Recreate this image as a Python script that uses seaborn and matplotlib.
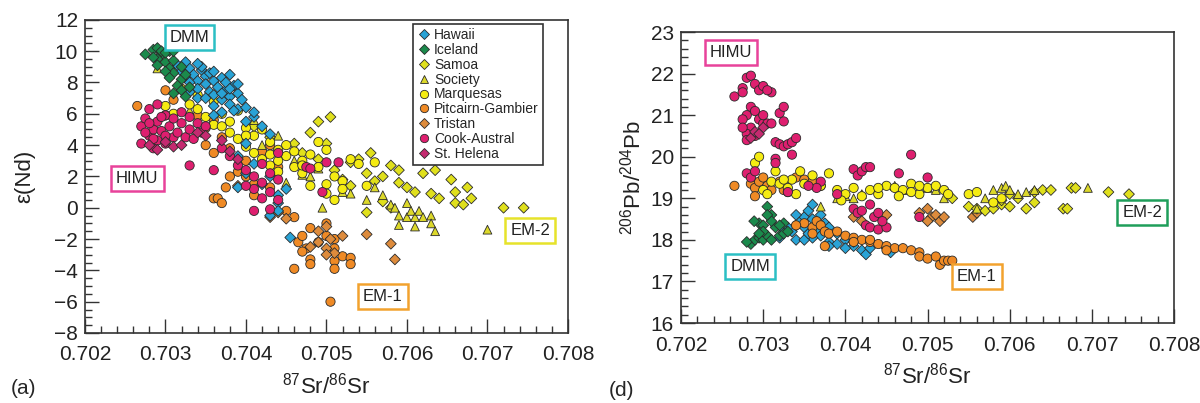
import pandas as pd
import seaborn as sns
import matplotlib.pyplot as plt
from matplotlib.lines import Line2D
from matplotlib.ticker import MultipleLocator, FormatStrFormatter

# groups, colours, markers
groups = ["Hawaii", "Iceland", "Samoa", "Society", "Marquesas",
          "Pitcairn-Gambier", "Tristan", "Cook-Austral", "St. Helena"]
colors = ["#29a3d6", "#1b8a4c", "#e0e01c", "#dcd82a", "#f5ec12",
          "#ef8a25", "#dd8b3c", "#de1f6f", "#c42a70"]
markers = ["D", "D", "D", "^", "o", "o", "D", "o", "D"]
msizes = [30, 30, 30, 40, 44, 44, 30, 44, 30]
order_a = ["Pitcairn-Gambier", "Tristan", "Samoa", "Society", "Marquesas",
           "Hawaii", "Iceland", "Cook-Austral", "St. Helena"]
order_d = ["Hawaii", "Iceland", "Pitcairn-Gambier", "Tristan", "Samoa",
           "Society", "Marquesas", "Cook-Austral", "St. Helena"]

# panel (a): 87Sr/86Sr vs eps(Nd)
hawaii_a = [(0.70315, 9.1), (0.7032, 8.7), (0.70325, 8.3), (0.7033, 8.9), (0.70335, 8.5),
            (0.7034, 8.1), (0.7034, 7.6), (0.70345, 8.8), (0.7035, 8.4), (0.7035, 7.9),
            (0.70355, 7.4), (0.7036, 8.1), (0.7036, 7.2), (0.70365, 7.7), (0.7037, 8.3),
            (0.7037, 6.9), (0.70375, 7.5), (0.7038, 7.1), (0.7038, 6.6), (0.70385, 7.8),
            (0.7039, 7.3), (0.7039, 6.3), (0.70395, 6.9), (0.7034, 7.0), (0.7033, 7.4),
            (0.7036, 6.5), (0.7037, 6.1), (0.7040, 5.5), (0.7041, 5.8), (0.7042, 5.2),
            (0.7043, 4.7), (0.7040, 4.1), (0.7039, 3.3), (0.7041, 2.8), (0.7043, 2.0),
            (0.7042, 1.5), (0.7044, 0.8), (0.7044, 0.3), (0.7045, 1.2), (0.7043, -0.5),
            (0.7044, -0.2), (0.70455, -1.9), (0.7039, 1.3), (0.7040, 2.2), (0.70345, 9.0),
            (0.7038, 8.5), (0.7033, 8.0), (0.7035, 7.0), (0.70355, 8.6), (0.7036, 8.7),
            (0.70375, 8.0), (0.7038, 7.6), (0.7039, 7.9), (0.7040, 6.4), (0.70385, 6.2),
            (0.7041, 6.1), (0.7034, 9.2), (0.70325, 9.3), (0.7037, 7.3), (0.7036, 5.9)]
iceland_a = [(0.70285, 10.1), (0.7029, 10.2), (0.70295, 9.8), (0.70305, 10.0), (0.7029, 9.5),
             (0.7030, 9.3), (0.70305, 8.9), (0.7031, 9.4), (0.7032, 9.0), (0.7031, 8.6),
             (0.7032, 8.2), (0.70315, 7.8), (0.70325, 8.5), (0.7030, 8.7), (0.7029, 9.1),
             (0.70285, 9.6), (0.7032, 7.5), (0.70325, 7.1), (0.7033, 7.7), (0.70295, 10.0),
             (0.7031, 7.3), (0.70275, 9.8), (0.7030, 9.9), (0.70305, 8.3), (0.7031, 10.0)]
samoa_a = [(0.7041, 5.2), (0.7043, 4.5), (0.7046, 4.1), (0.7048, 4.8), (0.7049, 5.5),
           (0.70505, 5.8), (0.7050, 4.1), (0.7047, 3.5), (0.7049, 3.1), (0.7051, 2.4),
           (0.7052, 1.8), (0.7053, 2.9), (0.7054, 3.1), (0.70555, 3.5), (0.7055, 2.2),
           (0.7056, 1.7), (0.7057, 2.0), (0.7058, 2.7), (0.7059, 1.6), (0.7059, 2.4),
           (0.7060, 1.3), (0.7061, 1.0), (0.7062, 2.2), (0.70635, 2.4), (0.7063, 0.9),
           (0.7064, 0.6), (0.70655, 1.8), (0.7066, 1.0), (0.7066, 0.3), (0.70675, 1.3),
           (0.7067, 0.2), (0.7068, 0.6), (0.7072, 0.0), (0.70745, 0.0), (0.7055, -0.3),
           (0.7057, 0.4), (0.7053, 1.4), (0.7058, 0.0)]
society_a = [(0.7029, 8.9), (0.7033, 6.2), (0.7041, 5.6), (0.7044, 4.6), (0.7046, 3.0),
             (0.7047, 2.1), (0.7045, 1.6), (0.7049, 2.5), (0.70495, 0.0), (0.7052, 1.0),
             (0.7053, 0.9), (0.7055, 0.5), (0.7056, 1.3), (0.7057, 0.8), (0.7058, 0.2),
             (0.70585, 0.0), (0.7059, -0.5), (0.7060, -0.6), (0.7060, 0.3), (0.70605, -0.2),
             (0.7061, -0.6), (0.70615, -0.2), (0.7062, -0.6), (0.7063, -0.5), (0.7063, -1.0),
             (0.70635, -1.5), (0.7059, -1.1), (0.7061, -1.2), (0.7070, -1.4), (0.7042, 4.0),
             (0.7048, 2.0)]
marquesas_a = [(0.7030, 6.5), (0.7031, 6.0), (0.7032, 7.6), (0.7033, 6.6), (0.7034, 6.3),
               (0.7034, 7.2), (0.7035, 5.8), (0.7036, 6.8), (0.7036, 5.3), (0.7037, 6.0),
               (0.7038, 5.5), (0.7038, 4.8), (0.7039, 6.2), (0.7039, 4.4), (0.7040, 5.1),
               (0.7040, 3.9), (0.7041, 4.6), (0.7041, 3.5), (0.7042, 5.0), (0.7042, 3.1),
               (0.7043, 4.2), (0.7043, 2.7), (0.7044, 3.7), (0.7044, 2.3), (0.7045, 3.3),
               (0.7045, 4.0), (0.7046, 2.6), (0.7046, 3.6), (0.7047, 3.0), (0.7047, 2.2),
               (0.7048, 3.4), (0.7048, 1.4), (0.7049, 2.6), (0.7049, 4.2), (0.7050, 1.5),
               (0.7050, 3.7), (0.7050, 0.9), (0.7051, 2.0), (0.7051, 0.5), (0.7052, 1.7),
               (0.7052, 1.2), (0.7053, 3.1), (0.7054, 2.8), (0.7055, 1.4), (0.7056, 2.9),
               (0.7037, 5.2), (0.7040, 4.6), (0.7044, 3.0), (0.7047, 2.7), (0.7043, 3.4)]
pitcairn_a = [(0.70265, 6.5), (0.7030, 7.5), (0.7031, 6.9), (0.7030, 5.9), (0.7034, 5.9),
              (0.7035, 5.1), (0.7036, 5.6), (0.7037, 4.5), (0.7035, 4.0), (0.7036, 3.5),
              (0.7038, 3.8), (0.7039, 2.3), (0.7040, 3.0), (0.7040, 2.0), (0.7041, 1.5),
              (0.7038, 2.0), (0.70375, 1.3), (0.7036, 0.6), (0.70365, 0.6), (0.7037, 0.3),
              (0.7041, 0.8), (0.7043, 1.3), (0.7045, -0.2), (0.7046, -0.6), (0.70465, -2.2),
              (0.7047, -1.8), (0.70475, -2.6), (0.7047, -2.8), (0.7048, -3.3), (0.7048, -3.6),
              (0.7050, -1.0), (0.7050, -1.8), (0.7049, -2.2), (0.7051, -2.0), (0.7051, -2.6),
              (0.7051, -3.4), (0.7051, -3.9), (0.7052, -3.1), (0.7053, -3.2), (0.7053, -3.6),
              (0.7046, -3.9), (0.70505, -6.0), (0.7048, -1.3), (0.7042, 3.6), (0.7044, 2.6),
              (0.7043, 4.0)]
tristan_a = [(0.7049, -1.5), (0.7049, -2.2), (0.7050, -2.6), (0.7050, -1.2), (0.70505, -2.0),
             (0.7051, -2.9), (0.7052, -1.8), (0.7055, -1.7), (0.7058, -2.3), (0.70585, -3.3),
             (0.7043, -0.6), (0.7044, -0.3), (0.7045, -0.7), (0.7039, 1.4), (0.7048, -2.5),
             (0.7050, -3.0)]
cook_a = [(0.7027, 5.2), (0.7027, 4.1), (0.70275, 5.7), (0.7028, 4.6), (0.7028, 6.3),
          (0.70285, 3.8), (0.70285, 5.0), (0.7029, 5.5), (0.7029, 4.3), (0.7029, 6.6),
          (0.70295, 4.9), (0.7030, 5.9), (0.7030, 4.1), (0.70305, 5.2), (0.7031, 4.5),
          (0.7031, 5.7), (0.70315, 4.8), (0.7032, 5.4), (0.7032, 6.1), (0.70325, 4.5),
          (0.7033, 5.0), (0.7033, 5.8), (0.70335, 4.4), (0.7034, 5.4), (0.70345, 4.8),
          (0.7035, 5.2), (0.7033, 2.7), (0.7036, 2.4), (0.7037, 3.8), (0.7038, 3.3),
          (0.7039, 2.7), (0.7040, 2.4), (0.7041, 2.0), (0.7041, 1.2), (0.7042, 2.8),
          (0.7042, 1.6), (0.7042, 0.6), (0.7043, 2.2), (0.7043, 1.0), (0.7043, -0.1),
          (0.7044, 1.8), (0.7044, 0.5), (0.7044, 3.5), (0.70475, 2.6), (0.7048, 2.5),
          (0.70495, 1.0), (0.7050, 2.9), (0.70515, 2.9), (0.7041, -0.2), (0.7040, 1.4),
          (0.70275, 4.8), (0.7028, 5.4), (0.70295, 5.8), (0.7030, 4.6), (0.70285, 4.4)]
helena_a = [(0.7029, 3.7), (0.7028, 4.0), (0.7030, 4.2), (0.7031, 3.9), (0.7032, 4.0),
            (0.7034, 4.8), (0.7035, 4.6), (0.7037, 4.3), (0.7038, 3.6), (0.7039, 3.1)]

# panel (d): 87Sr/86Sr vs 206Pb/204Pb
hawaii_d = [(0.70335, 18.2), (0.7034, 18.35), (0.70345, 18.45), (0.7035, 18.55), (0.7035, 18.3),
            (0.70355, 18.7), (0.7036, 18.85), (0.7036, 18.5), (0.70365, 18.25), (0.7037, 18.6),
            (0.70375, 18.4), (0.7038, 18.3), (0.7039, 18.15), (0.7040, 18.0), (0.7038, 17.95),
            (0.7037, 18.1), (0.7036, 18.05), (0.7041, 17.85), (0.7042, 17.75), (0.70425, 17.65),
            (0.7043, 17.8), (0.70455, 17.7), (0.7034, 18.0), (0.7035, 18.0), (0.7033, 18.3),
            (0.7040, 17.8), (0.7032, 18.05), (0.70325, 18.25), (0.7034, 18.6), (0.70355, 18.15),
            (0.7039, 17.9), (0.7038, 17.85), (0.7041, 17.95), (0.7045, 17.8)]
iceland_d = [(0.70285, 17.9), (0.7029, 18.0), (0.70295, 18.05), (0.7030, 18.0), (0.70305, 18.1),
             (0.7031, 18.0), (0.7032, 18.1), (0.70325, 18.15), (0.7033, 18.2), (0.70305, 18.8),
             (0.7031, 18.6), (0.70295, 18.4), (0.7030, 18.35), (0.70315, 18.3), (0.70325, 18.4),
             (0.7031, 18.45), (0.7030, 18.2), (0.70289, 18.45), (0.7028, 17.95), (0.70305, 18.6),
             (0.7032, 18.35), (0.70295, 18.15)]
samoa_d = [(0.7053, 19.0), (0.7055, 18.8), (0.7056, 18.75), (0.7057, 18.7), (0.7058, 18.75),
           (0.7059, 18.85), (0.7060, 18.8), (0.7059, 18.95), (0.7060, 19.1), (0.7062, 18.75),
           (0.7063, 18.9), (0.7064, 19.2), (0.7065, 19.2), (0.70665, 18.75), (0.7067, 18.75),
           (0.70675, 19.25), (0.7068, 19.25), (0.7072, 19.15), (0.70745, 19.1), (0.7063, 19.15),
           (0.7061, 19.0)]
society_d = [(0.7037, 18.8), (0.7039, 19.0), (0.7040, 19.05), (0.7041, 19.0), (0.7042, 19.1),
             (0.7046, 19.3), (0.7047, 19.2), (0.7050, 19.25), (0.7051, 19.2), (0.7052, 19.0),
             (0.7057, 19.0), (0.7058, 19.2), (0.7059, 19.25), (0.70595, 19.3), (0.7060, 19.2),
             (0.7061, 19.1), (0.7062, 19.15), (0.7063, 19.2), (0.70695, 19.25), (0.7056, 18.75)]
marquesas_d = [(0.7029, 19.85), (0.70295, 20.0), (0.7030, 19.2), (0.70305, 19.1), (0.7031, 19.4),
               (0.70315, 19.65), (0.7032, 19.35), (0.7033, 19.25), (0.70335, 19.45), (0.7034, 19.1),
               (0.70345, 19.65), (0.7035, 19.35), (0.7036, 19.55), (0.7037, 19.3), (0.7038, 19.6),
               (0.7039, 19.2), (0.7040, 19.1), (0.7041, 19.25), (0.7042, 19.05), (0.7043, 19.2),
               (0.7044, 19.1), (0.7045, 19.3), (0.7046, 19.25), (0.7047, 19.2), (0.7048, 19.35),
               (0.7049, 19.1), (0.7050, 19.25), (0.7051, 19.3), (0.7052, 19.2), (0.70525, 19.1),
               (0.7055, 19.1), (0.7056, 19.15), (0.7058, 18.9), (0.7059, 19.0), (0.70395, 18.95),
               (0.70465, 19.05), (0.7049, 19.3), (0.70325, 19.45), (0.7044, 19.25), (0.7048, 19.15)]
pitcairn_d = [(0.70265, 19.3), (0.70285, 19.35), (0.7029, 19.25), (0.70295, 19.4), (0.7029, 19.05),
              (0.7030, 19.5), (0.70305, 19.3), (0.7031, 19.2), (0.7032, 19.4), (0.70325, 19.2),
              (0.7033, 19.15), (0.7034, 19.5), (0.7035, 19.45), (0.7036, 19.4), (0.7037, 19.3),
              (0.7035, 18.4), (0.7036, 18.3), (0.70365, 18.45), (0.7037, 18.35), (0.70375, 18.2),
              (0.7038, 18.15), (0.7039, 18.2), (0.7040, 18.1), (0.7041, 18.05), (0.7042, 18.0),
              (0.7043, 17.95), (0.7044, 17.9), (0.7045, 17.85), (0.7046, 17.8), (0.7047, 17.8),
              (0.7048, 17.75), (0.7049, 17.7), (0.7049, 17.6), (0.7050, 17.55), (0.7051, 17.6),
              (0.70515, 17.4), (0.7052, 17.5), (0.70525, 17.5), (0.7053, 17.5), (0.70375, 17.85),
              (0.7041, 17.95), (0.7043, 18.0), (0.7045, 17.75), (0.7034, 18.35), (0.7036, 18.15)]
tristan_d = [(0.7050, 18.75), (0.70505, 18.55), (0.7051, 18.6), (0.70515, 18.45), (0.7052, 18.55),
             (0.7049, 18.65), (0.7050, 18.45), (0.70555, 18.55), (0.7056, 18.65), (0.7045, 18.6),
             (0.7042, 18.45), (0.7041, 18.55)]
cook_d = [(0.70265, 21.45), (0.70275, 21.65), (0.7028, 21.9), (0.70285, 21.95), (0.7029, 21.75),
          (0.70295, 21.6), (0.7030, 21.7), (0.70275, 21.55), (0.70285, 21.2), (0.7028, 21.0),
          (0.70275, 20.9), (0.7029, 21.1), (0.70295, 20.9), (0.7030, 20.8), (0.70285, 20.7),
          (0.7028, 20.55), (0.7029, 20.5), (0.70275, 20.7), (0.7028, 20.4), (0.7030, 21.0),
          (0.70305, 20.8), (0.7031, 21.55), (0.70305, 21.6), (0.7032, 21.05), (0.70325, 21.2),
          (0.70325, 20.85), (0.7031, 20.8), (0.70315, 20.35), (0.7032, 20.3), (0.70325, 20.25),
          (0.7033, 20.3), (0.70335, 20.35), (0.7034, 20.45), (0.70335, 20.05), (0.70315, 19.95),
          (0.70315, 19.85), (0.7028, 19.6), (0.70285, 19.5), (0.7029, 19.65), (0.7041, 19.7),
          (0.70415, 19.55), (0.7042, 19.65), (0.70425, 19.75), (0.7043, 19.75), (0.70465, 19.6),
          (0.7048, 20.05), (0.7050, 19.5), (0.7041, 18.75), (0.70415, 18.65), (0.7042, 18.7),
          (0.7043, 18.85), (0.70435, 18.55), (0.7044, 18.65), (0.70425, 18.35), (0.7043, 18.3),
          (0.7044, 18.25), (0.7045, 18.3), (0.70445, 18.45), (0.7049, 18.55), (0.7037, 19.4),
          (0.7039, 19.1), (0.70365, 19.25), (0.70355, 19.3), (0.7033, 19.15)]
helena_d = [(0.70285, 20.45), (0.7029, 20.6), (0.7030, 20.7), (0.70295, 20.55)]

data_a = dict(zip(groups, [hawaii_a, iceland_a, samoa_a, society_a, marquesas_a,
                           pitcairn_a, tristan_a, cook_a, helena_a]))
data_d = dict(zip(groups, [hawaii_d, iceland_d, samoa_d, society_d, marquesas_d,
                           pitcairn_d, tristan_d, cook_d, helena_d]))


def make_frame(data, order):
    rows = []
    for g in order:
        for sr, v in data[g]:
            rows.append((sr, v, g))
    return pd.DataFrame(rows, columns=["sr", "val", "group"])


sns.set_style("white")
plt.rcParams["font.family"] = ["Liberation Sans", "DejaVu Sans"]
plt.rcParams["mathtext.fontset"] = "custom"
plt.rcParams["mathtext.rm"] = "Liberation Sans"
plt.rcParams["mathtext.it"] = "Liberation Sans:italic"
plt.rcParams["mathtext.bf"] = "Liberation Sans:bold"

pal = dict(zip(groups, colors))
mk = dict(zip(groups, markers))
sz = dict(zip(groups, msizes))

fig = plt.figure(figsize=(12, 4.03), dpi=100)
ax1 = fig.add_axes([0.0708, 0.1737, 0.4025, 0.777])
ax2 = fig.add_axes([0.5675, 0.1985, 0.411, 0.722])

for ax, data, order in [(ax1, data_a, order_a), (ax2, data_d, order_d)]:
    df = make_frame(data, order)
    sns.scatterplot(data=df, x="sr", y="val", hue="group", style="group", size="group",
                    palette=pal, markers=mk, sizes=sz, edgecolor="#2a2a2a",
                    linewidth=0.6, legend=False, ax=ax)
    ax.set_xlim(0.702, 0.708)
    ax.xaxis.set_major_locator(MultipleLocator(0.001))
    ax.xaxis.set_minor_locator(MultipleLocator(0.0002))
    ax.xaxis.set_major_formatter(FormatStrFormatter("%.3f"))
    ax.tick_params(which="both", direction="in", bottom=True, left=True, top=False,
                   right=False, width=1.0, color="#333333", labelsize=15,
                   labelcolor="#222222")
    ax.tick_params(which="major", length=10)
    ax.tick_params(which="minor", length=5)
    ax.tick_params(axis="x", which="major", pad=9)
    ax.tick_params(axis="y", which="major", pad=5)
    for sp in ax.spines.values():
        sp.set_color("#333333")
        sp.set_linewidth(1.2)
    ax.set_xlabel("$^{87}$Sr/$^{86}$Sr", fontsize=16, color="#222222")

ax1.set_ylim(-8, 12)
ax1.yaxis.set_major_locator(MultipleLocator(2))
ax1.yaxis.set_minor_locator(MultipleLocator(0.5))
ax1.set_ylabel("ε(Nd)", fontsize=16, color="#222222")
ax1.yaxis.set_label_coords(-0.102, 0.5)
ax1.xaxis.set_label_coords(0.5, -0.125)

ax2.set_ylim(16, 23)
ax2.yaxis.set_major_locator(MultipleLocator(1))
ax2.yaxis.set_minor_locator(MultipleLocator(0.2))
ax2.set_ylabel("$^{206}$Pb/$^{204}$Pb", fontsize=16, color="#222222")
ax2.yaxis.set_label_coords(-0.071, 0.5)
ax2.xaxis.set_label_coords(0.5, -0.135)

# legend in panel (a)
handles = [Line2D([], [], ls="none", marker=m, markersize=6 if m != "D" else 5,
                  markerfacecolor=c, markeredgecolor="#2a2a2a", markeredgewidth=0.6)
           for c, m in zip(colors, markers)]
leg = ax1.legend(handles, groups, loc="upper right", bbox_to_anchor=(0.948, 0.987),
                 borderaxespad=0, fontsize=10, labelspacing=0.06, handletextpad=0.2,
                 handlelength=1.0, borderpad=0.3, fancybox=False, framealpha=1)
leg.get_frame().set_edgecolor("#333333")
leg.get_frame().set_linewidth(1.2)


def tag(ax, x, y, s, ec):
    ax.text(x, y, s, ha="center", va="center", fontsize=12, color="#222222",
            bbox=dict(boxstyle="square,pad=0.3", fc="white", ec=ec, lw=1.8))


tag(ax1, 0.7033, 10.9, "DMM", "#2bbfc4")
tag(ax1, 0.70265, 1.84, "HIMU", "#e8439a")
tag(ax1, 0.7057, -5.7, "EM-1", "#f2a22e")
tag(ax1, 0.70753, -1.48, "EM-2", "#e6e32a")

tag(ax2, 0.70261, 22.5, "HIMU", "#e8439a")
tag(ax2, 0.70284, 17.35, "DMM", "#2bbfc4")
tag(ax2, 0.7056, 17.13, "EM-1", "#f2a22e")
tag(ax2, 0.70761, 18.67, "EM-2", "#1f9e5a")

fig.text(24 / 1200, 1 - 388 / 403, "(a)", fontsize=15, ha="center", va="center")
fig.text(621 / 1200, 1 - 390 / 403, "(d)", fontsize=15, ha="center", va="center")

fig.savefig("out.png", dpi=100)
